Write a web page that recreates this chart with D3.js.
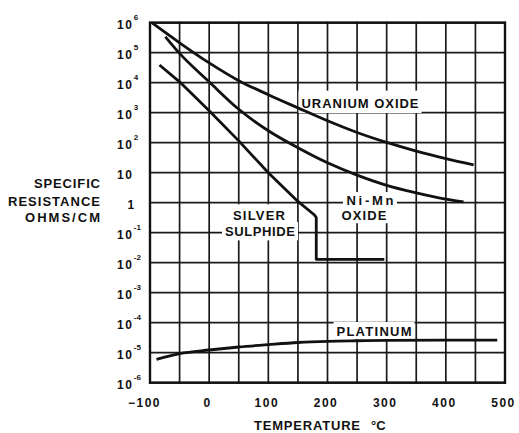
<!DOCTYPE html>
<html><head><meta charset="utf-8">
<script src="https://cdn.jsdelivr.net/npm/d3@7"></script>
<style>
body{margin:0;background:#fff}
svg{display:block}
text{font-family:"Liberation Sans",Arial,sans-serif;font-weight:bold;fill:#111}
</style></head><body>
<svg id="c" width="519" height="433"></svg>
<script>
// ---- data ----
const tempTicks = [-100, 0, 100, 200, 300, 400, 500];
const tempTickLabels = ["\u2212100", "0", "100", "200", "300", "400", "500"];
const resTicks = [1e6, 1e5, 1e4, 1e3, 1e2, 1e1, 1e0, 1e-1, 1e-2, 1e-3, 1e-4, 1e-5, 1e-6];
const resTickBase = ["10","10","10","10","10","10","1","10","10","10","10","10","10"];
const resTickSup = ["6","5","4","3","2","","","-1","-2","-3","-4","-5","-6"];

const uraniumT = [-97, -50, 0, 50, 100, 150, 200, 250, 300, 350, 400, 447];
const uraniumR = [1.0e6, 2.14e5, 4.57e4, 1.17e4, 3.98e3, 1.45e3, 537, 219, 102, 52.5, 29.5, 18.2];
const nimnT = [-74, -50, 0, 50, 100, 150, 200, 250, 300, 350, 400, 430];
const nimnR = [3.4e5, 9.5e4, 1.07e4, 1.3e3, 250, 68, 21.4, 8.3, 3.8, 2.14, 1.32, 1.07];
const silverT = [-84, -50, 0, 50, 100, 150, 178, 181, 181, 296];
const silverR = [3.9e4, 1.07e4, 1.17e3, 115, 10, 1.1, 0.39, 0.32, 0.013, 0.013];
const platinumT = [-89, -50, 0, 50, 100, 150, 200, 250, 300, 400, 487];
const platinumR = [6.0e-6, 9.3e-6, 1.23e-5, 1.55e-5, 1.86e-5, 2.19e-5, 2.4e-5, 2.5e-5, 2.57e-5, 2.63e-5, 2.63e-5];

const curveNames = [["URANIUM OXIDE"], ["Ni-Mn", "OXIDE"], ["SILVER", "SULPHIDE"], ["PLATINUM"]];
const yTitleLines = ["SPECIFIC", "RESISTANCE", "OHMS/CM"];
const xTitle = ["TEMPERATURE", "\u00B0C"];

// ---- chart ----
const svg = d3.select("#c");
const L = 150, R = 505, T = 22.7, B = 382.7;
const x = d3.scaleLinear().domain([-100, 500]).range([L, R]);
const y = d3.scaleLog().domain([1e-6, 1e6]).range([B, T]);
const ink = "#111";

// background
svg.append("rect").attr("width", 519).attr("height", 433).attr("fill", "#fff");

// grid: each line drawn with d3.line through points in data space
const dataLine = d3.line().x(d => x(d[0])).y(d => y(d[1]));
const gridSegs = x.ticks(12).map(t => [[t, 1e-6], [t, 1e6]])
  .concat(resTicks.map(r => [[-100, r], [500, r]]));
svg.append("g").selectAll("path").data(gridSegs).join("path")
  .attr("d", dataLine)
  .attr("fill", "none").attr("stroke", "#1a1a1a").attr("stroke-width", 1.7)
  .attr("stroke-linecap", "square");

// label placement (one group per curve label, one entry per line)
const labelPos = [
  [{cx: 360, cy: 103.3, w: 117, pad: [3, 8, 5]}],
  [{cx: 370, cy: 200.7, w: 47, pad: [3.5, 4, 3]}, {cx: 364, cy: 215.5, w: 45, pad: [3.5, 3, 3]}],
  [{cx: 259, cy: 215, w: 52, pad: [4, 6, 3]}, {cx: 260, cy: 231.7, w: 70, pad: [3, 5, 4]}],
  [{cx: 374, cy: 331.7, w: 75, pad: [3, 5, 3]}]
];
const capH = 9.4;
labelPos.flat().forEach(p => {
  svg.append("rect")
    .attr("x", p.cx - p.w / 2 - p.pad[0]).attr("y", p.cy - capH / 2 - p.pad[1])
    .attr("width", p.w + 2 * p.pad[0]).attr("height", capH + p.pad[1] + p.pad[2])
    .attr("fill", "#fff");
});

// curves
const smooth = d3.line().x(d => x(d[0])).y(d => y(d[1])).curve(d3.curveMonotoneX);
const series = [
  {t: uraniumT, r: uraniumR, gen: smooth},
  {t: nimnT, r: nimnR, gen: smooth},
  {t: silverT, r: silverR, gen: dataLine},
  {t: platinumT, r: platinumR, gen: smooth}
];
series.forEach(s => {
  svg.append("path")
    .attr("d", s.gen(s.t.map((t, i) => [t, s.r[i]])))
    .attr("fill", "none").attr("stroke", ink).attr("stroke-width", 2.8)
    .attr("stroke-linejoin", "round").attr("stroke-linecap", "butt");
});

// frame
svg.append("rect").attr("x", L).attr("y", T).attr("width", R - L).attr("height", B - T)
  .attr("fill", "none").attr("stroke", ink).attr("stroke-width", 2.4);

// curve labels (multi-line labels are one text with tspans)
labelPos.forEach((lines, i) => {
  const t = svg.append("text").attr("text-anchor", "middle").attr("font-size", 13);
  lines.forEach((p, j) => {
    t.append("tspan").attr("x", p.cx).attr("y", p.cy + capH / 2)
      .attr("textLength", p.w).attr("lengthAdjust", "spacing")
      .text(curveNames[i][j]);
  });
});

// x tick labels (axis)
const xAx = svg.append("g").attr("transform", `translate(0,${B})`)
  .call(d3.axisBottom(x).tickValues(tempTicks).tickSize(0).tickPadding(16)
    .tickFormat((d, i) => tempTickLabels[i]));
xAx.select(".domain").remove();
xAx.attr("font-family", null).attr("font-size", null);
xAx.selectAll("text").attr("font-size", 12).attr("letter-spacing", 1.5)
  .attr("x", (d, i) => i === 0 ? -6 : -2).attr("fill", ink);

// y tick labels (axis), exponent as a raised tspan of the same label
const yAx = svg.append("g").attr("transform", "translate(117,0)")
  .call(d3.axisLeft(y).tickValues(resTicks).tickSize(0).tickFormat(""));
yAx.select(".domain").remove();
yAx.attr("font-family", null).attr("font-size", null);
yAx.selectAll(".tick").each(function(d, i) {
  const g = d3.select(this);
  g.selectAll("text").remove();
  const t = g.append("text").attr("x", resTickBase[i] === "1" ? 10.5 : 0).attr("y", 5.5)
    .attr("text-anchor", "start").attr("font-size", 12);
  t.append("tspan").attr("letter-spacing", 1.5).text(resTickBase[i]);
  if (resTickSup[i]) {
    t.append("tspan").attr("font-size", 8).attr("dy", -9).attr("dx", 0.5)
      .attr("letter-spacing", 0).text(resTickSup[i]);
  }
});

// axis titles
const yTitleBase = [188, 206, 222], yTitleW = [66, 92, 75];
yTitleLines.forEach((t, i) => {
  svg.append("text").attr("x", 100).attr("y", yTitleBase[i]).attr("text-anchor", "end")
    .attr("font-size", 13).attr("textLength", yTitleW[i]).attr("lengthAdjust", "spacing").text(t);
});
svg.append("text").attr("x", 254).attr("y", 429.5).attr("font-size", 13)
  .attr("textLength", 106).attr("lengthAdjust", "spacing").text(xTitle[0]);
svg.append("text").attr("x", 371).attr("y", 429.5).attr("font-size", 13).text(xTitle[1]);
</script>
</body></html>
